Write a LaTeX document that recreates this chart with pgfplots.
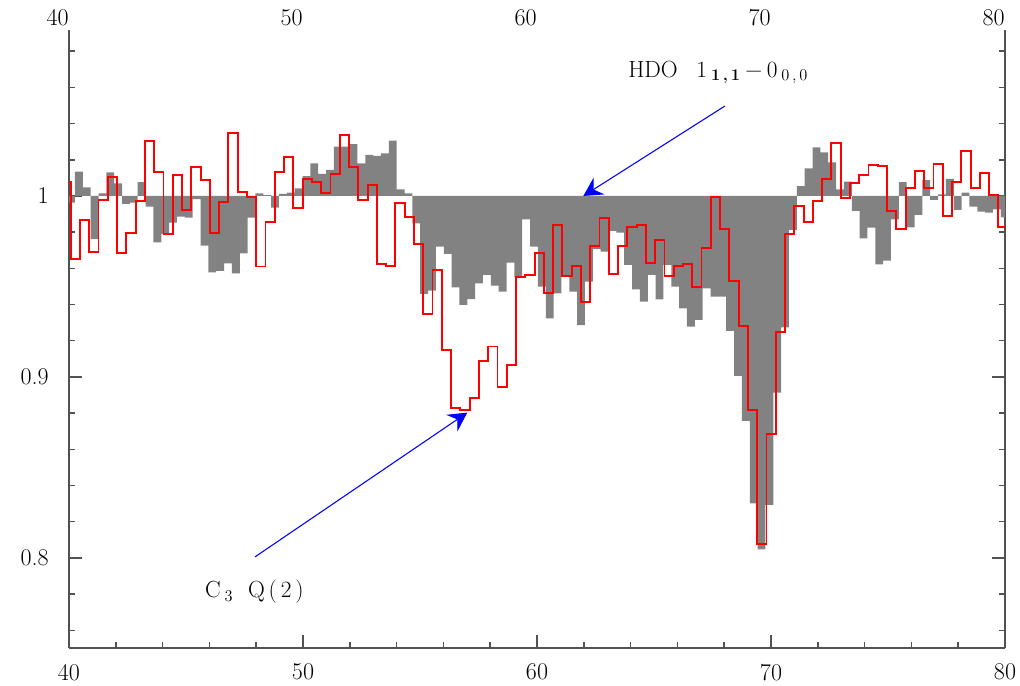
\documentclass[border=0pt]{standalone}
\usepackage{fontspec}
\usepackage{pgfplots}
\pgfplotsset{compat=1.18}
\usetikzlibrary{arrows.meta}

\begin{document}
\begin{tikzpicture}
\useasboundingbox (-51.75pt,-28pt) rectangle (713.25pt,485.8pt);
\begin{axis}[
  scale only axis, width=702pt, height=463.3pt,
  xmin=40, xmax=80, ymin=0.7504, ymax=1.0917,
  axis x line=bottom, axis y line=box,
  axis line style={-, line width=1.4pt, black!68},
  tick align=inside,
  xtick={40,50,60,70,80}, minor xtick={42,44,...,78},
  ytick={0.8,0.9,1}, minor ytick={0.76,0.78,...,1.09},
  major tick length=9.5pt, minor tick length=4.5pt,
  tick style={line width=1.1pt, black!68},
  /pgf/number format/assume math mode=true,
  ticklabel style={font=\fontsize{18}{21}\selectfont},
  xticklabel style={anchor=north, inner sep=0pt, yshift=-12pt},
  yticklabel style={anchor=east, inner sep=0pt, xshift=-15pt},
]
% grey histogram (filled relative to 1)
\addplot[const plot, fill=black!49, draw=none] coordinates {
(40,1) (40,0.9963) (40.256,1.0134) (40.591,1.0048) (40.927,0.9762) (41.262,1.0015) (41.597,1.0131) (41.933,1.007) (42.268,0.9956) (42.603,0.9963) (42.938,1.0076) (43.274,0.9941) (43.609,0.9744) (43.944,0.979) (44.280,0.9853) (44.615,0.9886) (44.950,0.988) (45.286,0.9982) (45.621,0.9726) (45.956,0.9578) (46.291,0.9586) (46.627,0.9628) (46.962,0.9573) (47.297,0.9683) (47.633,0.988) (47.968,1.0015) (48.303,1.0004) (48.639,0.9936) (48.974,1.0011) (49.309,1.0018) (49.644,1.0042) (49.980,1.011) (50.315,1.018) (50.650,1.0122) (50.986,1.0144) (51.321,1.0273) (51.656,1.0273) (51.992,1.0287) (52.327,1.018) (52.662,1.0227) (52.997,1.0221) (53.333,1.0236) (53.668,1.0306) (54.003,1.0037) (54.339,1.0015) (54.674,0.9849) (55.009,0.9459) (55.345,0.9477) (55.680,0.972) (56.015,0.968) (56.350,0.9495) (56.686,0.9398) (57.021,0.943) (57.356,0.9517) (57.692,0.9564) (58.027,0.9505) (58.362,0.9471) (58.698,0.9632) (59.033,0.9551) (59.368,0.9871) (59.703,0.972) (60.039,0.9499) (60.374,0.9324) (60.709,0.9462) (61.045,0.9554) (61.380,0.9471) (61.715,0.9287) (62.051,0.9527) (62.386,0.9706) (62.721,0.9692) (63.056,0.9807) (63.392,0.9797) (63.727,0.9619) (64.062,0.9484) (64.398,0.9416) (64.733,0.9564) (65.068,0.9429) (65.404,0.9619) (65.739,0.9499) (66.074,0.9379) (66.409,0.9278) (66.745,0.9315) (67.080,0.949) (67.415,0.9444) (67.751,0.9444) (68.086,0.9254) (68.421,0.9006) (68.757,0.8757) (69.092,0.8302) (69.427,0.8048) (69.762,0.8293) (70.098,0.8913) (70.433,0.9274) (70.768,0.9812) (71.104,1.0055) (71.439,1.0153) (71.774,1.0269) (72.110,1.0241) (72.445,1.0186) (72.780,1.0037) (73.115,1.0079) (73.451,0.9917) (73.786,0.9766) (74.121,0.9825) (74.457,0.9622) (74.792,0.9643) (75.127,0.9871) (75.463,1.0076) (75.798,0.9827) (76.133,0.9895) (76.468,1.0088) (76.804,0.9978) (77.139,1.0009) (77.474,1.0094) (77.810,0.9923) (78.145,1.0018) (78.480,0.9941) (78.816,0.9913) (79.151,0.9908) (79.486,0.9926) (79.821,0.9882) (80,0.9882) (80,1)
} -- cycle;
% red histogram
\addplot[const plot, red, line width=1.4pt] coordinates {
(39.677,1.0079) (40.074,0.9652) (40.470,0.9867) (40.866,0.9692) (41.263,0.9978) (41.659,1.0107) (42.056,0.9683) (42.452,0.9794) (42.849,0.9972) (43.245,1.0306) (43.642,1.0131) (44.038,0.979) (44.435,1.0116) (44.831,0.9923) (45.227,1.0162) (45.624,1.0088) (46.020,0.9794) (46.417,0.9969) (46.813,1.0346) (47.210,1.0024) (47.606,0.9996) (48.003,0.961) (48.399,0.9855) (48.795,1.0134) (49.192,1.0217) (49.588,0.9932) (49.985,1.0094) (50.381,1.0079) (50.778,1.0015) (51.174,1.0122) (51.571,1.0337) (51.967,1.0162) (52.363,0.9978) (52.760,1.0061) (53.156,0.9622) (53.553,0.9615) (53.949,0.9959) (54.346,0.9886) (54.742,0.9733) (55.139,0.9346) (55.535,0.9591) (55.931,0.9149) (56.328,0.8827) (56.724,0.8818) (57.121,0.8882) (57.517,0.9088) (57.914,0.9168) (58.310,0.8943) (58.707,0.9066) (59.103,0.9554) (59.499,0.9564) (59.896,0.9683) (60.292,0.9466) (60.689,0.984) (61.085,0.9558) (61.482,0.9615) (61.878,0.9413) (62.275,0.9724) (62.671,0.988) (63.067,0.9569) (63.464,0.9724) (63.860,0.9827) (64.257,0.984) (64.653,0.9628) (65.050,0.9757) (65.446,0.9558) (65.843,0.9615) (66.239,0.9622) (66.635,0.9499) (67.032,0.9711) (67.428,0.9996) (67.825,0.9816) (68.221,0.9532) (68.618,0.9282) (69.014,0.8816) (69.411,0.8076) (69.807,0.8683) (70.203,0.925) (70.600,0.9788) (70.996,0.9945) (71.393,0.9858) (71.789,0.9972) (72.186,1.0094) (72.582,1.0291) (72.979,0.9987) (73.375,1.007) (73.771,1.0116) (74.168,1.0171) (74.564,1.0166) (74.961,0.9919) (75.357,0.9818) (75.754,1.0046) (76.150,1.014) (76.547,1.0042) (76.943,1.0177) (77.339,0.989) (77.736,1.0079) (78.132,1.025) (78.529,1.0046) (78.925,1.0125) (79.322,1.0006) (79.718,0.9827) (80.114,0.9827)
};
% annotations
\draw[blue, line width=0.8pt, -{Stealth[length=14pt, width=15pt, inset=5pt]}]
  (axis cs:68.03,1.0497) -- (axis cs:61.98,1.0);
\draw[blue, line width=0.8pt, -{Stealth[length=14pt, width=15pt, inset=5pt]}]
  (axis cs:47.95,0.8006) -- (axis cs:57.02,0.8803);
\node[anchor=base west, inner sep=0pt, font=\fontsize{17.5}{20}\selectfont] at (axis cs:63.89,1.0656)
  {HDO\hspace{14pt}1\,\textsubscript{\textbf{1\,,\,1}}\hspace{3.5pt}−\hspace{3.5pt}0\,\textsubscript{0\,,\,0}};
\node[anchor=base west, inner sep=0pt, font=\fontsize{17.5}{20}\selectfont] at (axis cs:45.81,0.7779)
  {C\,\textsubscript{3}\hspace{11pt}Q\,(\,2\,)};
\end{axis}
\begin{axis}[
  scale only axis, width=702pt, height=463.3pt,
  xmin=40, xmax=80, ymin=0.7504, ymax=1.0917,
  hide y axis,
  axis x line=top,
  axis line style={draw=none},
  xtick={40,50,60,70,80}, minor xtick={},
  xtick style={draw=none},
  /pgf/number format/assume math mode=true,
  ticklabel style={font=\fontsize{18}{21}\selectfont},
  xticklabel style={anchor=south east, inner sep=0pt, yshift=1pt},
]
\addplot[draw=none] coordinates {(40,1)};
\end{axis}
\end{tikzpicture}
\end{document}
